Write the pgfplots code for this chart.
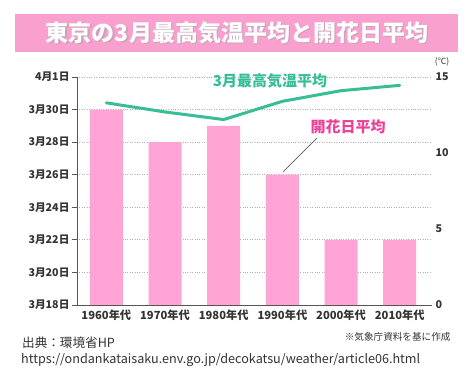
\documentclass[border=0pt]{standalone}
\usepackage{fontspec}
\setmainfont{Noto Sans CJK JP}
\usepackage{pgfplots}
\pgfplotsset{compat=1.18}
\definecolor{barpink}{RGB}{255,164,212}
\definecolor{bannerpink}{RGB}{249,160,206}
\definecolor{linegreen}{RGB}{56,190,150}
\definecolor{labelpink}{RGB}{238,64,152}
\definecolor{txtgray}{RGB}{51,51,51}
\definecolor{axgray}{RGB}{85,85,85}
\begin{document}
\begin{tikzpicture}[x=1pt,y=1pt]
\useasboundingbox (0,0) rectangle (475,389);
\fill[white] (0,0) rectangle (475,389);
\fill[bannerpink] (15,389-52) rectangle (458,389-14);
\node[black!35, opacity=0.6, font=\bfseries\fontsize{23}{23}\selectfont] at (238.2,389-34.2) {東京の3月最高気温平均と開花日平均};
\node[white, font=\bfseries\fontsize{23}{23}\selectfont] at (237,389-33) {東京の3月最高気温平均と開花日平均};
\begin{axis}[
  at={(77pt,84pt)}, anchor=south west,
  scale only axis, width=355pt, height=228pt,
  xmin=-0.5, xmax=5.55, ymin=0, ymax=14,
  axis y line*=left, axis x line*=bottom,
  axis line style={-, axgray, line width=0.8pt},
  ytick={0,2,4,6,8,10,12,14},
  yticklabels={3月18日,3月20日,3月22日,3月24日,3月26日,3月28日,3月30日,4月1日},
  xtick={0,1,2,3,4,5},
  xticklabels={1960年代,1970年代,1980年代,1990年代,2000年代,2010年代},
  x tick style={draw=none},
  y tick style={axgray, line width=0.8pt},
  tick align=outside, major tick length=5pt,
  ymajorgrids, grid style={black!30, dotted, line width=0.8pt},
  yticklabel style={font=\bfseries\fontsize{10.7}{10.7}\selectfont, text=txtgray, xshift=1pt},
  xticklabel style={font=\bfseries\fontsize{11.2}{11.2}\selectfont, text=txtgray, yshift=4pt},
  ybar, bar width=33pt,
  clip=false,
]
\addplot[fill=barpink, draw=none] coordinates {(0,12) (1,10) (2,11) (3,8) (4,4) (5,4)};
\end{axis}
\begin{axis}[
  at={(77pt,84pt)}, anchor=south west,
  scale only axis, width=355pt, height=228pt,
  xmin=-0.5, xmax=5.55, ymin=0, ymax=15,
  axis y line*=right, axis x line=none,
  axis line style={draw=none},
  ytick={0,5,10,15},
  y tick style={draw=none},
  /pgf/number format/assume math mode=true,
  yticklabel style={font=\bfseries\fontsize{10.7}{10.7}\selectfont, text=txtgray, anchor=west, xshift=0pt},
  clip=false,
]
\addplot[linegreen, line width=3pt, line join=round, line cap=round] coordinates {(0,13.3) (1,12.7) (2,12.2) (3,13.4) (4,14.1) (5,14.45)};
\end{axis}
\node[font=\fontsize{8.5}{8.5}\selectfont, text=txtgray] at (442,389-62) {(℃)};
\node[font=\bfseries\fontsize{15}{15}\selectfont, text=linegreen] at (270,389-81) {3月最高気温平均};
\node[font=\bfseries\fontsize{15}{15}\selectfont, text=labelpink] at (348,389-127) {開花日平均};
\draw[black!75, line width=0.6pt] (283,389-172) -- (317,389-138);
\node[font=\fontsize{9.6}{9.6}\selectfont, text=txtgray, anchor=east] at (454,389-337) {※気象庁資料を基に作成};
\node[font=\fontsize{12.6}{12.6}\selectfont, text=txtgray, anchor=west, inner sep=0pt] at (22,389-343) {出典：環境省HP};
\node[font=\fontsize{12.6}{12.6}\selectfont, text=txtgray, anchor=west, inner sep=0pt] at (21,389-360) {https://ondankataisaku.env.go.jp/decokatsu/weather/article06.html};
\end{tikzpicture}
\end{document}
